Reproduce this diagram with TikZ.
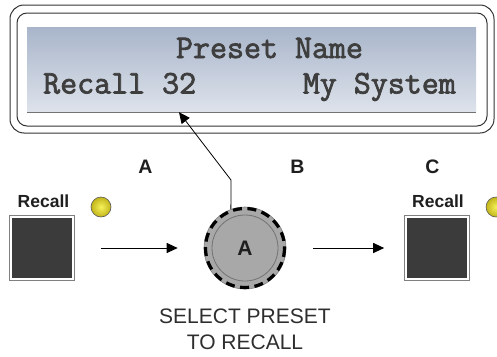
\documentclass[tikz,border=0pt]{standalone}
\usepackage{fontspec}
\setmainfont{Liberation Sans}
\newfontfamily\lcdfont{Latin Modern Mono}[FakeBold=2.2]
\usetikzlibrary{arrows.meta}
\definecolor{lcdtop}{HTML}{A8B5CA}
\definecolor{lcdbottom}{HTML}{DEE3EB}
\definecolor{lcdtext}{HTML}{3E3E3E}
\definecolor{btnfill}{HTML}{3B3B3B}
\definecolor{knobgray}{HTML}{A8A8A8}
\definecolor{ledinner}{HTML}{F6F25A}
\definecolor{ledouter}{HTML}{C2B41A}
\tikzset{
    bezel/.style = {
        draw = black!80,
        line width = 1pt,
    },
    recallbtn/.style = {
        rectangle,
        minimum size = 62pt,
        inner sep = 0pt,
        fill = btnfill,
        draw = white,
        line width = 1.6pt,
        preaction = {draw = gray, line width = 3.6pt},
    },
    led/.style = {
        circle,
        minimum size = 20pt,
        inner sep = 0pt,
        draw = black!65,
        line width = .6pt,
        inner color = ledinner,
        outer color = ledouter,
    },
    tag/.style = {
        font = \fontsize{19.5}{19.5}\selectfont\bfseries,
        text = black!88,
    },
    caption/.style = {
        font = \fontsize{17.5}{17.5}\selectfont\bfseries,
        text = black!88,
    },
    lcd/.style = {
        font = \fontsize{33}{33}\selectfont\lcdfont,
        text = lcdtext,
        inner sep = 0pt,
    },
}

\begin{document}
\begin{tikzpicture}[x=1pt,y=-1pt,>={Triangle[length=11pt,width=10pt]}]
  \useasboundingbox (0,0) rectangle (497,356);

  % Display
  \node[bezel,rounded corners=14pt,minimum width=484pt,minimum height=128pt] (Bezel) at (252,69) {};
  \node[bezel,rounded corners=10pt,minimum width=470pt,minimum height=113pt] (BezelInner) at (252,69.5) {};
  \node[top color=lcdtop,bottom color=lcdbottom,minimum width=449pt,minimum height=85pt,inner sep=0pt] (Screen) at (251.5,69.5) {};
  \draw[draw=black!55,line width=.8pt] (Screen.south west) to (Screen.south east);

  \node[lcd,anchor=base] (PresetName) at (269.5,58) {Preset Name};
  \node[lcd,anchor=base west] (RecallNum) at (43,93.5) {Recall 32};
  \node[lcd,anchor=base east] (SystemName) at (456,93.5) {My System};

  % Recall A
  \node[tag] (StepA) at (145.5,167) {A};
  \node[caption] (CaptionA) at (43.5,201.5) {Recall};
  \node[recallbtn] (RecallA) at (42,248) {};
  \node[led] (LedA) at (101,207) {};

  % Knob B
  \node[tag] (StepB) at (297.5,167) {B};
  \node[circle,fill=knobgray,draw=black!50,line width=.6pt,minimum size=82pt] (Knob) at (245,248) {};
  \draw[line width=3.2pt,dash pattern=on 9pt off 5.5pt] (Knob.center) circle (39.5);
  \node[circle,fill=knobgray,draw=black!55,line width=.8pt,minimum size=66pt,
        font=\fontsize{21}{21}\selectfont\bfseries,text=black!88] (KnobCap) at (Knob) {A};

  % Recall C
  \node[tag] (StepC) at (432.5,167) {C};
  \node[caption] (CaptionC) at (438,201.5) {Recall};
  \node[recallbtn] (RecallC) at (437,248) {};
  \node[led] (LedC) at (496,207) {};

  \node[font=\fontsize{21}{26}\selectfont,text=black!82,align=center] (Hint) at (245,329.5) {SELECT PRESET\\TO RECALL};

  % Arrows
  \coordinate (Bend) at (231,180);
  \coordinate (Pointer) at ([xshift=-72.5pt]Screen.south);

  \draw[->,line width=1pt,shorten <=27pt,shorten >=26pt] (RecallA) to (Knob);
  \draw[->,line width=1pt,shorten <=27pt,shorten >=21pt] (Knob) to (RecallC);
  \draw[->,line width=.8pt] (Knob.110) -- (Bend) -- (Pointer);

\end{tikzpicture}
\end{document}
